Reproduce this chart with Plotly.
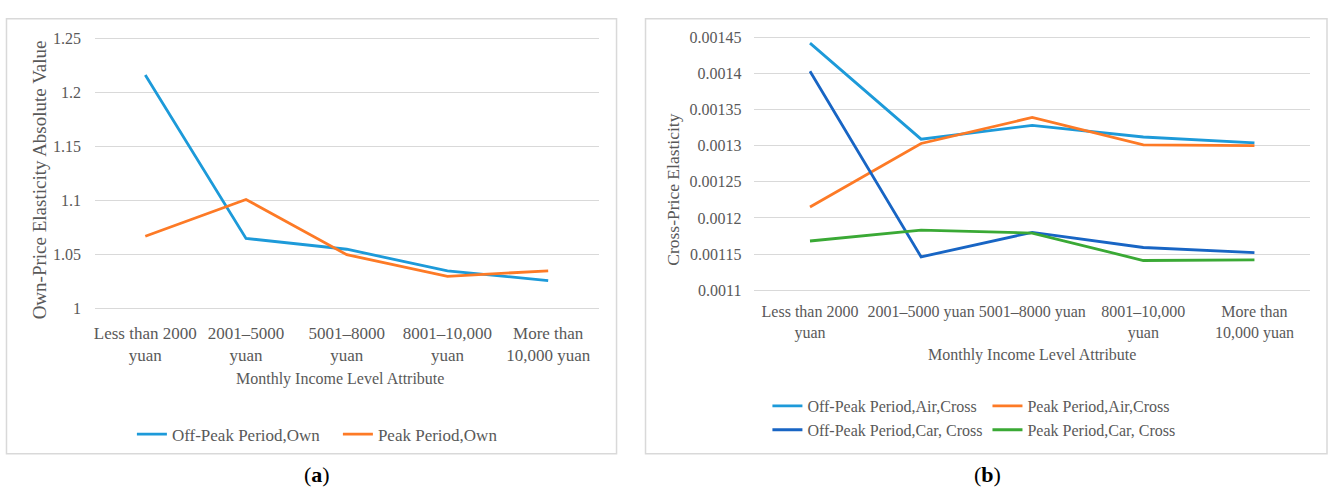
import plotly.graph_objects as go

W, H = 1328, 494

# Category labels for the two panels
income_a = ["Less than 2000<br>yuan", "2001–5000<br>yuan", "5001–8000<br>yuan",
            "8001–10,000<br>yuan", "More than<br>10,000 yuan"]
income_b = ["Less than 2000<br>yuan", "2001–5000 yuan", "5001–8000 yuan",
            "8001–10,000<br>yuan", "More than<br>10,000 yuan"]

# (a) own-price elasticity, absolute value
off_peak_own = [1.216, 1.065, 1.055, 1.035, 1.026]
peak_own = [1.067, 1.101, 1.050, 1.030, 1.035]

# (b) cross-price elasticity
off_peak_air_cross = [0.001442, 0.001309, 0.001328, 0.001312, 0.001304]
peak_air_cross = [0.001215, 0.001303, 0.001339, 0.001301, 0.001300]
off_peak_car_cross = [0.001403, 0.001146, 0.001180, 0.001159, 0.001152]
peak_car_cross = [0.001168, 0.001183, 0.001179, 0.001141, 0.001142]

ticks_a = [1.0, 1.05, 1.1, 1.15, 1.2, 1.25]
tick_text_a = ["1", "1.05", "1.1", "1.15", "1.2", "1.25"]
ticks_b = [0.0011, 0.00115, 0.0012, 0.00125, 0.0013, 0.00135, 0.0014, 0.00145]
tick_text_b = ["0.0011", "0.00115", "0.0012", "0.00125", "0.0013", "0.00135", "0.0014", "0.00145"]

FONT = "Liberation Serif, Times New Roman, serif"
TXT = "#595959"
GRID = "#d9d9d9"
C_LBLUE = "#1d9ad9"
C_ORANGE = "#fd7a26"
C_DBLUE = "#1865c4"
C_GREEN = "#3aa935"
LW = 2.8


def px(x):
    return x / W


def py(y):
    return 1 - y / H


xa = list(range(5))

fig = go.Figure()

# panel (a)
fig.add_trace(go.Scatter(x=xa, y=off_peak_own, mode="lines", name="Off-Peak Period,Own",
                         line=dict(color=C_LBLUE, width=LW), xaxis="x", yaxis="y", legend="legend"))
fig.add_trace(go.Scatter(x=xa, y=peak_own, mode="lines", name="Peak Period,Own",
                         line=dict(color=C_ORANGE, width=LW), xaxis="x", yaxis="y", legend="legend"))

# panel (b)
fig.add_trace(go.Scatter(x=xa, y=off_peak_air_cross, mode="lines", name="Off-Peak Period,Air,Cross",
                         line=dict(color=C_LBLUE, width=LW), xaxis="x2", yaxis="y2",
                         legend="legend2", legendgroup="off"))
fig.add_trace(go.Scatter(x=xa, y=peak_air_cross, mode="lines", name="Peak Period,Air,Cross",
                         line=dict(color=C_ORANGE, width=LW), xaxis="x2", yaxis="y2",
                         legend="legend2", legendgroup="peak"))
fig.add_trace(go.Scatter(x=xa, y=off_peak_car_cross, mode="lines", name="Off-Peak Period,Car, Cross",
                         line=dict(color=C_DBLUE, width=LW), xaxis="x2", yaxis="y2",
                         legend="legend2", legendgroup="off"))
fig.add_trace(go.Scatter(x=xa, y=peak_car_cross, mode="lines", name="Peak Period,Car, Cross",
                         line=dict(color=C_GREEN, width=LW), xaxis="x2", yaxis="y2",
                         legend="legend2", legendgroup="peak"))

# y ranges padded slightly so the outer gridlines stay visible
ya_lo, ya_hi = 0.995, 1.255
ya_scale = 276 / 0.25
yb_lo, yb_hi = 0.001095, 0.001455
yb_scale = 258 / 0.00035

ya_dom = [py(310 + (1.0 - ya_lo) * ya_scale), py(34 - (ya_hi - 1.25) * ya_scale)]
yb_dom = [py(291 + (0.0011 - yb_lo) * yb_scale), py(33 - (yb_hi - 0.00145) * yb_scale)]

ytickfont = dict(family=FONT, size=16, color=TXT)

common_x = dict(range=[-0.5, 4.5], tickmode="array", tickvals=xa, showgrid=False, tickangle=0,
                zeroline=False, showline=False, ticks="", fixedrange=True)
common_y = dict(tickmode="array", showgrid=True, gridcolor=GRID, gridwidth=1,
                zeroline=False, showline=False, ticks="", tickfont=ytickfont, fixedrange=True)

fig.update_layout(
    width=W, height=H,
    margin=dict(l=0, r=0, t=0, b=0),
    paper_bgcolor="white", plot_bgcolor="white",
    font=dict(family=FONT, size=16, color=TXT),
    xaxis=dict(domain=[px(94), px(598)], ticktext=income_a, anchor="y",
               tickfont=dict(family=FONT, size=17, color=TXT),
               ticklabelstandoff=7, **common_x),
    yaxis=dict(domain=ya_dom, range=[ya_lo, ya_hi], tickvals=ticks_a, ticktext=tick_text_a,
               anchor="x", ticklabelstandoff=13, **common_y),
    xaxis2=dict(domain=[px(754), px(1310)], ticktext=income_b, anchor="y2",
                tickfont=dict(family=FONT, size=16, color=TXT),
                ticklabelstandoff=6, **common_x),
    yaxis2=dict(domain=yb_dom, range=[yb_lo, yb_hi], tickvals=ticks_b, ticktext=tick_text_b,
                anchor="x2", ticklabelstandoff=12, **common_y),
    legend=dict(orientation="h", x=px(131), y=py(420), xanchor="left", yanchor="top",
                font=dict(family=FONT, size=17, color=TXT), bgcolor="rgba(0,0,0,0)",
                itemwidth=30, tracegroupgap=0, entrywidth=161),
    legend2=dict(orientation="h", x=px(767), y=py(392), xanchor="left", yanchor="top",
                 font=dict(family=FONT, size=16, color=TXT), bgcolor="rgba(0,0,0,0)",
                 itemwidth=30, tracegroupgap=0, traceorder="grouped"),
    showlegend=True,
)

# panel frames
for x0, x1 in [(5.5, 616), (645, 1327)]:
    fig.add_shape(type="rect", xref="paper", yref="paper",
                  x0=px(x0), x1=px(x1), y0=py(458), y1=py(14),
                  line=dict(color=GRID, width=1.5), fillcolor="rgba(0,0,0,0)", layer="below")

# axis titles
titles = [
    dict(text="Own-Price Elasticity Absolute Value", x=px(38), y=py(178), textangle=-90, size=19),
    dict(text="Cross-Price Elasticity", x=px(673), y=py(188), textangle=-90, size=17.5),
    dict(text="Monthly Income Level Attribute", x=px(339), y=py(382), textangle=0, size=16),
    dict(text="Monthly Income Level Attribute", x=px(1032), y=py(357), textangle=0, size=16),
]
for t in titles:
    fig.add_annotation(text=t["text"], x=t["x"], y=t["y"], textangle=t["textangle"],
                       xref="paper", yref="paper", xanchor="center", yanchor="middle",
                       showarrow=False, font=dict(family=FONT, size=t["size"], color=TXT))

# panel captions
for label, x in [("a", 316), ("b", 987)]:
    fig.add_annotation(text=f"(<b>{label}</b>)", x=px(x), y=py(479), xref="paper", yref="paper",
                       xanchor="center", yanchor="middle", showarrow=False,
                       font=dict(family=FONT, size=22, color="#000000"))

fig.write_html("out.html")
